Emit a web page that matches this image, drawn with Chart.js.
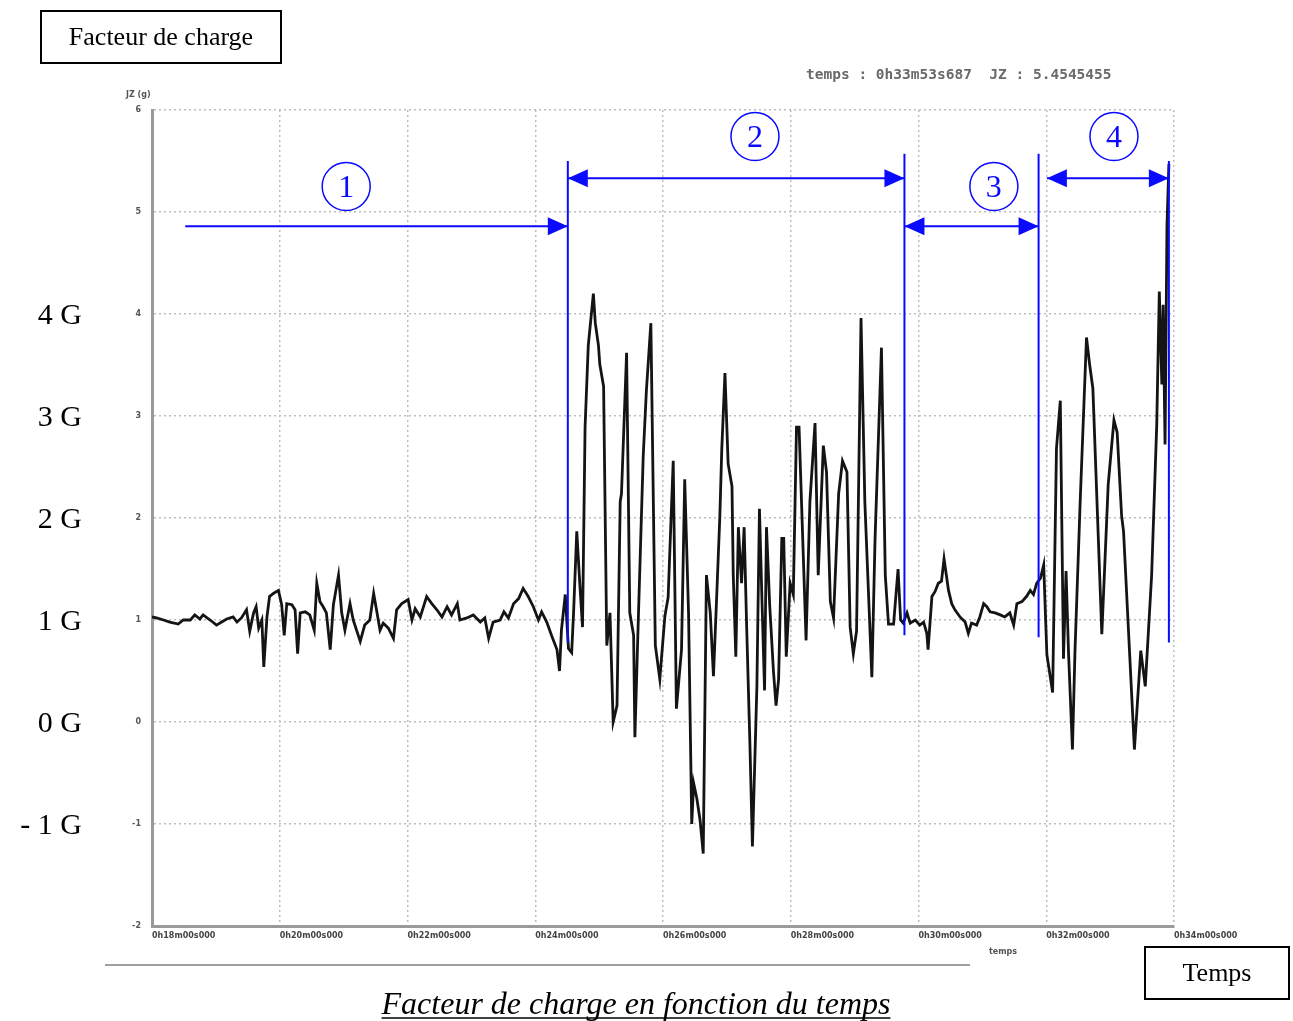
<!DOCTYPE html>
<html>
<head>
<meta charset="utf-8">
<script src="https://cdn.jsdelivr.net/npm/chart.js@4/dist/chart.umd.min.js"></script>
<style>
  html, body { margin: 0; padding: 0; background: #ffffff; }
  #wrap { position: relative; width: 1293px; height: 1021px; }
</style>
</head>
<body>
<div id="wrap"><canvas id="c" width="1293" height="1021"></canvas></div>
<script>
// ---- Data (time in minutes, JZ in g) ----
const times = [
  18.00,18.07,18.18,18.28,18.41,18.49,18.60,18.67,18.75,18.80,18.91,19.01,19.09,19.17,19.27,19.33,19.40,19.48,19.53,19.59,
  19.63,19.67,19.72,19.75,19.80,19.84,19.90,19.98,20.03,20.07,20.11,20.19,20.24,20.28,20.32,20.40,20.47,20.54,20.58,20.63,
  20.68,20.73,20.79,20.84,20.92,20.97,21.02,21.10,21.15,21.26,21.33,21.41,21.47,21.52,21.57,21.62,21.70,21.78,21.83,21.91,
  22.01,22.07,22.12,22.20,22.30,22.38,22.46,22.54,22.62,22.69,22.78,22.82,22.93,23.03,23.14,23.21,23.27,23.34,23.45,23.51,
  23.58,23.66,23.74,23.81,23.89,23.97,24.05,24.10,24.18,24.26,24.34,24.38,24.41,24.47,24.52,24.57,24.60,24.65,24.70,24.74,
  24.78,24.83,24.91,24.94,24.99,25.01,25.07,25.12,25.17,25.22,25.28,25.33,25.35,25.43,25.48,25.54,25.56,25.61,25.69,25.74,
  25.81,25.88,25.95,26.03,26.08,26.16,26.21,26.29,26.34,26.40,26.45,26.48,26.53,26.58,26.63,26.68,26.74,26.79,26.84,26.89,
  26.92,26.97,27.02,27.08,27.10,27.14,27.18,27.23,27.27,27.31,27.36,27.40,27.47,27.51,27.55,27.59,27.62,27.67,27.73,27.77,
  27.81,27.86,27.89,27.93,27.99,28.04,28.09,28.13,28.24,28.30,28.38,28.43,28.51,28.56,28.62,28.67,28.75,28.81,28.88,28.93,
  28.98,29.03,29.10,29.16,29.27,29.32,29.42,29.48,29.53,29.61,29.68,29.72,29.76,29.82,29.87,29.95,30.02,30.08,30.13,30.15,
  30.21,30.26,30.31,30.36,30.40,30.47,30.52,30.57,30.65,30.73,30.78,30.83,30.91,30.96,31.02,31.07,31.12,31.20,31.28,31.35,
  31.43,31.49,31.54,31.62,31.69,31.75,31.80,31.85,31.91,31.96,32.01,32.10,32.16,32.22,32.27,32.31,32.35,32.41,32.45,32.53,
  32.63,32.68,32.73,32.87,32.97,33.06,33.11,33.18,33.21,33.38,33.48,33.55,33.65,33.73,33.77,33.81,33.83,33.86,33.89,33.92
];
const jz = [
  1.03,1.02,1.00,0.98,0.96,1.00,1.00,1.05,1.01,1.05,1.00,0.95,0.98,1.01,1.03,0.98,1.02,1.10,0.89,1.07,
  1.13,0.92,1.00,0.54,1.03,1.23,1.26,1.29,1.15,0.85,1.16,1.15,1.10,0.67,1.07,1.08,1.05,0.90,1.36,1.18,
  1.13,1.07,0.71,1.15,1.44,1.07,0.90,1.16,1.00,0.79,0.95,1.00,1.26,1.08,0.90,0.97,0.92,0.82,1.10,1.16,
  1.20,1.00,1.11,1.03,1.23,1.16,1.10,1.03,1.13,1.05,1.16,1.00,1.02,1.05,0.98,1.02,0.82,0.98,1.00,1.08,
  1.02,1.16,1.21,1.31,1.23,1.13,1.00,1.08,0.98,0.84,0.71,0.50,0.90,1.25,0.72,0.68,1.07,1.87,1.33,0.93,
  2.89,3.69,4.20,3.91,3.69,3.51,3.29,0.75,1.07,0.00,0.16,2.16,2.24,3.62,1.07,0.85,-0.15,0.93,2.60,3.25,
  3.91,0.75,0.42,1.04,1.22,2.56,0.13,0.71,2.38,1.07,-1.00,-0.60,-0.75,-0.96,-1.29,1.44,1.07,0.45,1.22,2.02,
  2.67,3.42,2.53,2.31,1.44,0.64,1.91,1.36,1.91,0.93,-0.20,-1.22,0.35,2.09,1.18,0.31,1.91,1.15,0.49,0.16,
  0.42,1.80,1.80,0.64,1.36,1.25,2.89,2.89,0.80,2.16,2.93,1.44,2.71,2.45,1.18,1.02,2.24,2.56,2.45,0.93,
  0.67,0.89,3.96,2.16,0.44,1.80,3.67,1.44,0.96,0.96,1.50,1.00,0.97,1.07,0.97,1.00,0.95,0.98,0.87,0.71,
  1.23,1.28,1.36,1.38,1.60,1.29,1.16,1.10,1.03,0.98,0.87,0.97,0.95,1.03,1.16,1.13,1.08,1.07,1.05,1.03,
  1.07,0.95,1.16,1.18,1.23,1.29,1.25,1.36,1.41,1.54,0.66,0.29,2.68,3.15,0.62,1.48,0.66,-0.27,0.70,2.14,
  3.77,3.50,3.27,0.86,2.33,2.96,2.84,2.02,1.87,-0.27,0.70,0.35,1.44,2.92,4.22,3.31,4.09,2.72,4.86,5.47
];
const xTickMinutes = [18,20,22,24,26,28,30,32,34];
const yTickValues = [6,5,4,3,2,1,0,-1,-2];
const gLabelValues = [4,3,2,1,0,-1];
const gLabels = ["4 G","3 G","2 G","1 G","0 G","- 1 G"];
const phaseBounds = [24.51, 29.78, 31.88, 33.92];
const phaseLineTop = [5.50, 5.57, 5.57, 5.50];
const phaseLineBottom = [0.78, 0.85, 0.83, 0.78];
const phaseArrowFrom = [18.52, 24.51, 29.78, 32.01];
const phaseArrowTo = [24.51, 29.78, 31.88, 33.92];
const phaseArrowLevel = [4.86, 5.33, 4.86, 5.33];
const phaseArrowDouble = [false, true, true, true];
const phaseNames = ["1","2","3","4"];
const phaseCircleT = [21.04, 27.44, 31.18, 33.06];
const phaseCircleV = [5.25, 5.74, 5.25, 5.74];
const titleText = "Facteur de charge";
const xBoxText = "Temps";
const captionText = "Facteur de charge en fonction du temps";
const headerText = "temps : 0h33m53s687  JZ : 5.4545455";
const yAxisTitle = "JZ (g)";
const xAxisTitle = "temps";

const pad2 = n => (n < 10 ? "0" + n : "" + n);

const annotPlugin = {
  id: 'annot',
  afterDraw(chart) {
    const ctx = chart.ctx;
    const xs = chart.scales.x, ys = chart.scales.y;
    const blue = '#0a0aff';
    ctx.save();

    // scan line at the bottom
    ctx.strokeStyle = '#a0a0a0'; ctx.lineWidth = 2;
    ctx.beginPath(); ctx.moveTo(105, 965); ctx.lineTo(970, 965); ctx.stroke();

    // title box
    ctx.strokeStyle = '#000'; ctx.lineWidth = 2;
    ctx.strokeRect(41, 11, 240, 52);
    ctx.fillStyle = '#000';
    ctx.font = '26px "Liberation Serif", "Times New Roman", serif';
    ctx.textAlign = 'center'; ctx.textBaseline = 'middle';
    ctx.fillText(titleText, 161, 38);
    // Temps box
    ctx.strokeRect(1145, 947, 144, 52);
    ctx.fillText(xBoxText, 1217, 974);

    // caption, italic underlined
    ctx.font = 'italic 32px "Liberation Serif", "Times New Roman", serif';
    const cw = ctx.measureText(captionText).width;
    ctx.textBaseline = 'alphabetic';
    ctx.fillText(captionText, 636, 1014);
    ctx.lineWidth = 1.5;
    ctx.beginPath(); ctx.moveTo(636 - cw/2, 1018); ctx.lineTo(636 + cw/2, 1018); ctx.stroke();

    // header readout
    ctx.fillStyle = '#6a6a6a';
    ctx.font = 'bold 14.5px "DejaVu Sans Mono", monospace';
    ctx.textAlign = 'left'; ctx.textBaseline = 'middle';
    ctx.fillText(headerText, 806, 75);

    // axis titles (small)
    ctx.fillStyle = '#555';
    ctx.font = 'bold 8px "DejaVu Sans", sans-serif';
    ctx.fillText(yAxisTitle, 126, 95);
    ctx.fillText(xAxisTitle, 989, 952);

    // big G labels
    ctx.fillStyle = '#000';
    ctx.font = '30px "Liberation Serif", "Times New Roman", serif';
    ctx.textAlign = 'right'; ctx.textBaseline = 'middle';
    gLabelValues.forEach((v, i) => ctx.fillText(gLabels[i], 82, ys.getPixelForValue(v) + 2));

    // blue phase annotations
    ctx.strokeStyle = blue; ctx.fillStyle = blue; ctx.lineWidth = 2;
    phaseBounds.forEach((t, i) => {
      const x = xs.getPixelForValue(t);
      ctx.beginPath();
      ctx.moveTo(x, ys.getPixelForValue(phaseLineTop[i]));
      ctx.lineTo(x, ys.getPixelForValue(phaseLineBottom[i]));
      ctx.stroke();
    });
    const head = (xTip, y, dir) => {
      ctx.beginPath();
      ctx.moveTo(xTip, y);
      ctx.lineTo(xTip - dir * 20, y - 9);
      ctx.lineTo(xTip - dir * 20, y + 9);
      ctx.closePath(); ctx.fill();
    };
    phaseArrowFrom.forEach((t0, i) => {
      const x0 = xs.getPixelForValue(t0), x1 = xs.getPixelForValue(phaseArrowTo[i]);
      const y = ys.getPixelForValue(phaseArrowLevel[i]);
      ctx.beginPath(); ctx.moveTo(x0, y); ctx.lineTo(x1, y); ctx.stroke();
      head(x1, y, 1);
      if (phaseArrowDouble[i]) head(x0, y, -1);
    });
    ctx.font = '32px "Liberation Serif", "Times New Roman", serif';
    ctx.textAlign = 'center'; ctx.textBaseline = 'middle';
    phaseCircleT.forEach((t, i) => {
      const cx = xs.getPixelForValue(t), cy = ys.getPixelForValue(phaseCircleV[i]);
      ctx.lineWidth = 1.5;
      ctx.beginPath(); ctx.arc(cx, cy, 24, 0, Math.PI * 2); ctx.stroke();
      ctx.fillText(phaseNames[i], cx, cy + 2);
    });
    ctx.restore();
  }
};

new Chart(document.getElementById('c'), {
  type: 'line',
  data: {
    datasets: [{
      data: times.map((t, i) => ({ x: t, y: jz[i] })),
      borderColor: '#141414',
      borderWidth: 2.8,
      pointRadius: 0,
      tension: 0,
      fill: false
    }]
  },
  options: {
    responsive: false,
    animation: false,
    events: [],
    layout: { padding: { left: 122, top: 110, right: 119, bottom: 55 } },
    plugins: { legend: { display: false }, tooltip: { enabled: false }, title: { display: false } },
    scales: {
      x: {
        type: 'linear', min: 18, max: 34,
        afterFit: s => { s.height = 40; },
        afterBuildTicks: s => { s.ticks = xTickMinutes.map(v => ({ value: v })); },
        grid: { color: '#bdbdbd', lineWidth: 1.5, drawTicks: false },
        border: { display: true, color: '#9a9a9a', width: 3, dash: [2, 3] },
        ticks: {
          align: 'start', padding: 5, maxRotation: 0, autoSkip: false,
          color: '#444', font: { family: 'DejaVu Sans', size: 8, weight: 'bold' },
          callback: v => '0h' + pad2(v) + 'm00s000'
        }
      },
      y: {
        type: 'linear', min: -2, max: 6,
        afterFit: s => { s.width = 30; },
        afterBuildTicks: s => { s.ticks = yTickValues.map(v => ({ value: v })); },
        grid: { color: '#bdbdbd', lineWidth: 1.5, drawTicks: false },
        border: { display: true, color: '#9a9a9a', width: 3, dash: [2, 3] },
        ticks: {
          padding: 11, color: '#555',
          font: { family: 'DejaVu Sans', size: 8, weight: 'bold' },
          callback: v => '' + v
        }
      }
    }
  },
  plugins: [annotPlugin]
});
</script>
</body>
</html>
